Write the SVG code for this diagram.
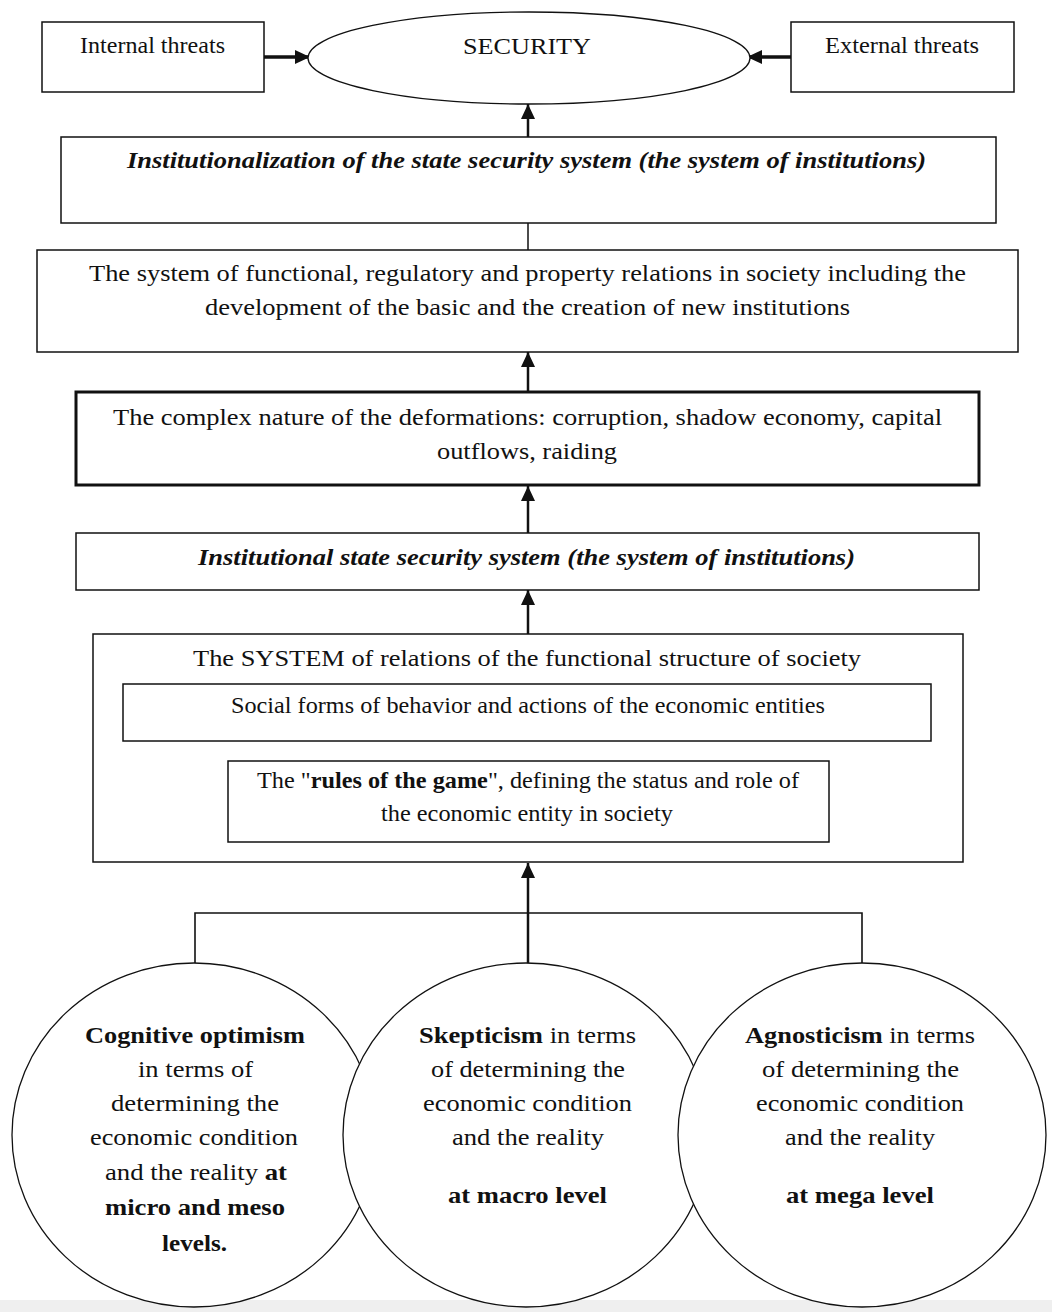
<svg xmlns="http://www.w3.org/2000/svg" width="1052" height="1312" viewBox="0 0 1052 1312">
<style>
  text { font-family: "Liberation Serif", "Times New Roman", serif; font-size: 23px; fill: #111; text-anchor: middle; }
  .b { font-weight: bold; }
  .bi { font-weight: bold; font-style: italic; }
  .box { fill: #fff; stroke: #111; stroke-width: 1.5; }
  .thick { fill: #fff; stroke: #111; stroke-width: 3; }
  .ell { fill: #fff; stroke: #111; stroke-width: 1.3; }
  .conn { stroke: #111; fill: none; }
</style>
<defs>
  <marker id="arr" markerUnits="userSpaceOnUse" markerWidth="16" markerHeight="14" refX="15" refY="7" orient="auto">
    <path d="M0,0 L15,7 L0,14 Z" fill="#111"/>
  </marker>
</defs>
<rect x="0" y="0" width="1052" height="1312" fill="#fff"/>
<rect x="0" y="1300" width="1052" height="12" fill="#efefef"/>

<g id="connectors">
  <line class="conn" x1="264" y1="57" x2="310" y2="57" stroke-width="3.5" marker-end="url(#arr)"/>
  <line class="conn" x1="791" y1="57" x2="747" y2="57" stroke-width="3.5" marker-end="url(#arr)"/>
  <line class="conn" x1="528" y1="137" x2="528" y2="104" stroke-width="2.5" marker-end="url(#arr)"/>
  <line class="conn" x1="528" y1="250" x2="528" y2="223" stroke-width="1.5"/>
  <line class="conn" x1="528" y1="392" x2="528" y2="352" stroke-width="2.5" marker-end="url(#arr)"/>
  <line class="conn" x1="528" y1="533" x2="528" y2="486" stroke-width="2.5" marker-end="url(#arr)"/>
  <line class="conn" x1="528" y1="634" x2="528" y2="590" stroke-width="2.5" marker-end="url(#arr)"/>
  <line class="conn" x1="528" y1="963" x2="528" y2="863" stroke-width="2.5" marker-end="url(#arr)"/>
  <polyline class="conn" points="195,963 195,913 862,913 862,963" stroke-width="1.6"/>
</g>

<g id="internal-threats">
  <rect class="box" x="42" y="22" width="222" height="70"/>
  <text x="152.5" y="53" textLength="145" lengthAdjust="spacingAndGlyphs">Internal threats</text>
</g>
<g id="external-threats">
  <rect class="box" x="791" y="22" width="223" height="70"/>
  <text x="902" y="53" textLength="154" lengthAdjust="spacingAndGlyphs">External threats</text>
</g>
<g id="security">
  <ellipse class="ell" cx="529" cy="58" rx="221" ry="46"/>
  <text x="527" y="54" textLength="128" lengthAdjust="spacingAndGlyphs">SECURITY</text>
</g>

<g id="institutionalization">
  <rect class="box" x="61" y="137" width="935" height="86"/>
  <text class="bi" x="526.5" y="168" textLength="799" lengthAdjust="spacingAndGlyphs">Institutionalization of the state security system (the system of institutions)</text>
</g>

<g id="relations-system">
  <rect class="box" x="37" y="250" width="981" height="102"/>
  <text x="527.5" y="281" textLength="877" lengthAdjust="spacingAndGlyphs">The system of functional, regulatory and property relations in society including the</text>
  <text x="527.5" y="315" textLength="645" lengthAdjust="spacingAndGlyphs">development of the basic and the creation of new institutions</text>
</g>

<g id="deformations">
  <rect class="thick" x="76" y="392" width="903" height="93"/>
  <text x="527.5" y="425" textLength="829" lengthAdjust="spacingAndGlyphs">The complex nature of the deformations: corruption, shadow economy, capital</text>
  <text x="527" y="459" textLength="180" lengthAdjust="spacingAndGlyphs">outflows, raiding</text>
</g>

<g id="institutional-system">
  <rect class="box" x="76" y="533" width="903" height="57"/>
  <text class="bi" x="526.5" y="565" textLength="657" lengthAdjust="spacingAndGlyphs">Institutional state security system (the system of institutions)</text>
</g>

<g id="functional-structure">
  <rect class="box" x="93" y="634" width="870" height="228"/>
  <text x="527" y="666" textLength="668" lengthAdjust="spacingAndGlyphs">The SYSTEM of relations of the functional structure of society</text>
  <g id="social-forms">
    <rect class="box" x="123" y="684" width="808" height="57"/>
    <text x="528" y="713" textLength="594" lengthAdjust="spacingAndGlyphs">Social forms of behavior and actions of the economic entities</text>
  </g>
  <g id="rules-of-game">
    <rect class="box" x="228" y="761" width="601" height="81"/>
    <text x="528" y="788" textLength="542" lengthAdjust="spacingAndGlyphs">The "<tspan class="b">rules of the game</tspan>", defining the status and role of</text>
    <text x="527" y="821" textLength="292" lengthAdjust="spacingAndGlyphs">the economic entity in society</text>
  </g>
</g>

<g id="cognitive-optimism">
  <ellipse class="ell" cx="194" cy="1135" rx="182" ry="172"/>
  <text class="b" x="195" y="1043" textLength="220" lengthAdjust="spacingAndGlyphs">Cognitive optimism</text>
  <text x="195.5" y="1077" textLength="115" lengthAdjust="spacingAndGlyphs">in terms of</text>
  <text x="195" y="1111" textLength="168" lengthAdjust="spacingAndGlyphs">determining the</text>
  <text x="194" y="1145" textLength="208" lengthAdjust="spacingAndGlyphs">economic condition</text>
  <text x="196" y="1180" textLength="182" lengthAdjust="spacingAndGlyphs">and the reality <tspan class="b">at</tspan></text>
  <text class="b" x="195" y="1215" textLength="180" lengthAdjust="spacingAndGlyphs">micro and meso</text>
  <text class="b" x="194.5" y="1251" textLength="65" lengthAdjust="spacingAndGlyphs">levels.</text>
</g>

<g id="skepticism">
  <ellipse class="ell" cx="526" cy="1135" rx="183" ry="172"/>
  <text x="527.5" y="1043" textLength="217" lengthAdjust="spacingAndGlyphs"><tspan class="b">Skepticism</tspan> in terms</text>
  <text x="528" y="1077" textLength="194" lengthAdjust="spacingAndGlyphs">of determining the</text>
  <text x="527.5" y="1111" textLength="209" lengthAdjust="spacingAndGlyphs">economic condition</text>
  <text x="528" y="1145" textLength="152" lengthAdjust="spacingAndGlyphs">and the reality</text>
  <text class="b" x="527.5" y="1203" textLength="159" lengthAdjust="spacingAndGlyphs">at macro level</text>
</g>

<g id="agnosticism">
  <ellipse class="ell" cx="862" cy="1135" rx="184" ry="172"/>
  <text x="860" y="1043" textLength="230" lengthAdjust="spacingAndGlyphs"><tspan class="b">Agnosticism</tspan> in terms</text>
  <text x="860.5" y="1077" textLength="197" lengthAdjust="spacingAndGlyphs">of determining the</text>
  <text x="860" y="1111" textLength="208" lengthAdjust="spacingAndGlyphs">economic condition</text>
  <text x="860" y="1145" textLength="150" lengthAdjust="spacingAndGlyphs">and the reality</text>
  <text class="b" x="860" y="1203" textLength="148" lengthAdjust="spacingAndGlyphs">at mega level</text>
</g>
</svg>
